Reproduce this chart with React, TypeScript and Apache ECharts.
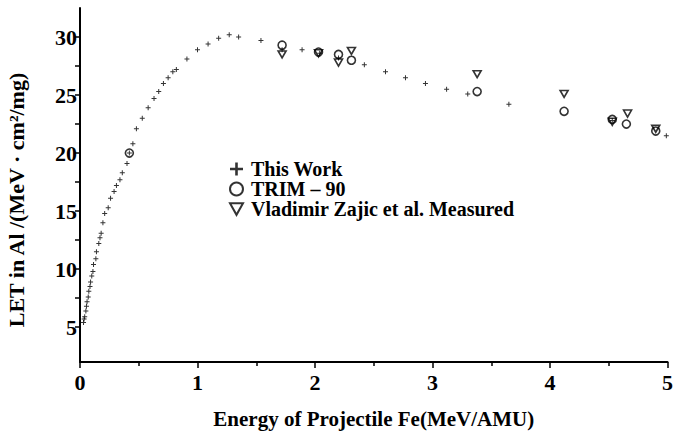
import React, { useEffect, useRef } from 'react';
import * as echarts from 'echarts';

const thisWork: [number, number][] = [
  [0.03, 5.4], [0.035, 5.7], [0.04, 5.9], [0.05, 6.4], [0.055, 6.8], [0.06, 7.2],
  [0.07, 7.6], [0.075, 8.1], [0.085, 8.5], [0.09, 8.9], [0.1, 9.4], [0.11, 9.8],
  [0.115, 10.4], [0.135, 10.9], [0.14, 11.5], [0.16, 12.2], [0.17, 12.7], [0.18, 13.1],
  [0.195, 14.0], [0.21, 14.8], [0.24, 15.3], [0.26, 16.1], [0.29, 16.7], [0.31, 17.2],
  [0.34, 17.7], [0.36, 18.3], [0.4, 19.1], [0.42, 20.0], [0.45, 20.8], [0.48, 22.1],
  [0.53, 23.0], [0.58, 23.9], [0.63, 24.7], [0.67, 25.3], [0.71, 26.0], [0.75, 26.5],
  [0.79, 27.0], [0.82, 27.2], [0.91, 28.1], [1.0, 28.9], [1.09, 29.4], [1.18, 29.9],
  [1.27, 30.2], [1.35, 30.0], [1.54, 29.7], [1.72, 28.9], [1.89, 28.9], [2.04, 28.6],
  [2.2, 28.2], [2.42, 27.6], [2.6, 27.0], [2.77, 26.5], [2.94, 26.0], [3.12, 25.5],
  [3.3, 25.1], [3.65, 24.2], [4.53, 22.8], [4.99, 21.5],
];

const trim90: [number, number][] = [
  [0.42, 20.0], [1.72, 29.3], [2.03, 28.7], [2.2, 28.5], [2.31, 28.0], [3.38, 25.3],
  [4.12, 23.6], [4.53, 22.9], [4.65, 22.5], [4.9, 21.9],
];

const measured: [number, number][] = [
  [1.72, 28.5], [2.03, 28.6], [2.2, 27.8], [2.31, 28.8], [3.38, 26.8], [4.12, 25.1],
  [4.53, 22.7], [4.66, 23.4], [4.9, 22.1],
];

const yTickLabels = [5, 10, 15, 20, 25, 30];
const yTickMarks = [5, 7.5, 10, 12.5, 15, 17.5, 20, 22.5, 25, 27.5, 30];

const seriesNames = ['This Work', 'TRIM – 90', 'Vladimir Zajic et al. Measured'];
const xTitle = 'Energy of Projectile Fe(MeV/AMU)';
const yTitle = 'LET in Al /(MeV · cm²/mg)';

const FONT = "'Liberation Serif', 'DejaVu Serif', serif";
const PLUS = 'path://M4,0H6V4H10V6H6V10H4V6H0V4H4Z';
const TRI_DOWN = 'path://M0,0L10,0L5,9Z';

export default function App() {
  const ref = useRef<HTMLDivElement>(null);
  useEffect(() => {
    const chart = echarts.init(ref.current!, null, { renderer: 'svg' });
    const txt = { fontFamily: FONT, fontSize: 20, fontWeight: 'bold' as const, color: '#000' };
    chart.setOption({
      animation: false,
      backgroundColor: '#fff',
      textStyle: { fontFamily: FONT },
      grid: { left: 80, right: 6, top: 8, bottom: 77 },
      xAxis: {
        type: 'value', min: 0, max: 5, interval: 1,
        name: xTitle, nameLocation: 'middle', nameGap: 46, nameTextStyle: { ...txt, fontSize: 21 },
        axisLine: { lineStyle: { color: '#000', width: 2 } },
        axisTick: { length: 6, lineStyle: { color: '#000', width: 1.5 } },
        minorTick: { show: true, splitNumber: 2, length: 4, lineStyle: { color: '#000', width: 1.5 } },
        axisLabel: { margin: 9, ...txt, fontSize: 22 },
        splitLine: { show: false },
      },
      yAxis: {
        type: 'value', min: 2, max: 32.5,
        axisLine: { show: true, lineStyle: { color: '#000', width: 2 } },
        axisTick: { show: true, length: 5, customValues: yTickMarks, lineStyle: { color: '#000', width: 1.5 } },
        axisLabel: { margin: 3, customValues: yTickLabels, ...txt, fontSize: 22 },
        splitLine: { show: false },
      },
      legend: {
        orient: 'vertical', left: 224, top: 154, itemWidth: 13, itemHeight: 13, itemGap: 0,
        textStyle: { ...txt, padding: [0, 0, 0, 3] },
        data: seriesNames,
      },
      graphic: [
        {
          type: 'text', x: 16, y: 200, rotation: Math.PI / 2,
          style: {
            text: yTitle, fill: '#000', fontFamily: FONT, fontSize: 22, fontWeight: 'bold',
            textAlign: 'center', textVerticalAlign: 'middle',
          },
        },
      ],
      series: [
        {
          name: seriesNames[0], type: 'scatter', data: thisWork, symbol: PLUS, symbolSize: 5,
          itemStyle: { color: '#000' }, z: 3,
        },
        {
          name: seriesNames[1], type: 'scatter', data: trim90, symbol: 'circle', symbolSize: 8,
          itemStyle: { color: 'rgba(0,0,0,0)', borderColor: '#000', borderWidth: 1.6 },
        },
        {
          name: seriesNames[2], type: 'scatter', data: measured, symbol: TRI_DOWN, symbolSize: [8, 7],
          itemStyle: { color: 'rgba(0,0,0,0)', borderColor: '#000', borderWidth: 1.6 },
        },
      ],
    });
    return () => chart.dispose();
  }, []);
  return <div ref={ref} style={{ position: 'fixed', left: 0, top: 0, width: 676, height: 439 }} />;
}
